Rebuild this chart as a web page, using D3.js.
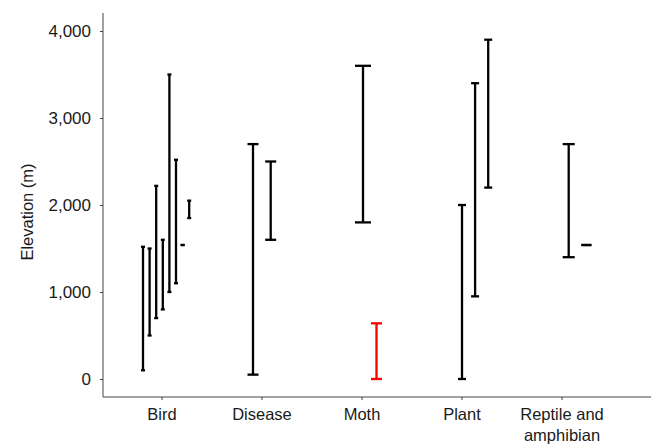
<!DOCTYPE html>
<meta charset="utf-8">

<head>
    <script src="https://d3js.org/d3.v7.min.js"></script>
</head>
<style>
    body {
        margin: 0;
        font-family: "Liberation Sans", Helvetica, Arial, sans-serif;
        background: #fff;
    }

    .axis text {
        font-family: "Liberation Sans", Helvetica, Arial, sans-serif;
        fill: #1a1a1a;
    }
</style>

<body>
    <script>
        'use strict';

        // categories along the x axis
        const categories = ["Bird", "Disease", "Moth", "Plant", "Reptile and amphibian"];

        // elevation ranges (m), one pair of arrays per category
        const birdLow = [100, 500, 700, 800, 1000, 1100, 1540, 1850];
        const birdHigh = [1520, 1500, 2220, 1600, 3500, 2520, 1540, 2050];
        const diseaseLow = [50, 1600];
        const diseaseHigh = [2700, 2500];
        const mothLow = [1800, 0];
        const mothHigh = [3600, 640];
        const plantLow = [0, 950, 2200];
        const plantHigh = [2000, 3400, 3900];
        const reptileLow = [1400, 1540];
        const reptileHigh = [2700, 1540];

        const yTicks = [0, 1000, 2000, 3000, 4000];

        // the one range drawn in red
        const highlighted = { category: "Moth", index: 1 };

        const lows = [birdLow, diseaseLow, mothLow, plantLow, reptileLow];
        const highs = [birdHigh, diseaseHigh, mothHigh, plantHigh, reptileHigh];

        // dodge layout inside each category slot (pixels from slot centre)
        const dodge = {
            "Bird": { start: -19, step: 6.6, cap: [4] },
            "Disease": { start: -9, step: 17.7, cap: [11] },
            "Moth": { start: 1, step: 13.5, cap: [16, 11] },
            "Plant": { start: 0, step: 13.1, cap: [8] },
            "Reptile and amphibian": { start: 6.7, step: 17.7, cap: [12, 10] }
        };

        const W = 651, H = 446;
        const left = 103, bottom = 397;

        const svg = d3.select("body").append("svg")
            .attr("width", W)
            .attr("height", H);

        const x = d3.scaleBand()
            .domain(categories)
            .range([112, 612])
            .padding(0);

        const y = d3.scaleLinear()
            .domain([0, 4000])
            .range([379, 31]);

        const rows = [];
        categories.forEach((c, ci) => {
            lows[ci].forEach((lo, i) => {
                rows.push({ category: c, i: i, low: lo, high: highs[ci][i] });
            });
        });

        const xPos = (d) => {
            const l = dodge[d.category];
            return x(d.category) + x.bandwidth() / 2 + l.start + d.i * l.step;
        };
        const capW = (d) => {
            const c = dodge[d.category].cap;
            return c[Math.min(d.i, c.length - 1)];
        };
        const colour = (d) => (d.category === highlighted.category && d.i === highlighted.index) ? "#ff0000" : "#000";

        // axes
        const yAxis = svg.append("g")
            .attr("class", "axis")
            .attr("transform", "translate(" + left + ",0)")
            .call(d3.axisLeft(y).tickValues(yTicks).tickFormat(d3.format(",")).tickSize(3).tickPadding(9));
        yAxis.select(".domain").remove();
        yAxis.selectAll(".tick line").attr("stroke", "#444");
        yAxis.selectAll("text").style("font-size", "17px");
        yAxis.append("line")
            .attr("x1", 0).attr("x2", 0)
            .attr("y1", 13).attr("y2", bottom)
            .attr("stroke", "#444");

        const xAxis = svg.append("g")
            .attr("class", "axis")
            .attr("transform", "translate(0," + bottom + ")")
            .call(d3.axisBottom(x).tickSize(3).tickPadding(8));
        xAxis.select(".domain").remove();
        xAxis.selectAll(".tick line").attr("stroke", "#444");
        xAxis.append("line")
            .attr("x1", left).attr("x2", W)
            .attr("y1", 0).attr("y2", 0)
            .attr("stroke", "#444");

        // wrap the long label onto two lines
        xAxis.selectAll(".tick text")
            .style("font-size", "16.5px")
            .each(function (d) {
                const t = d3.select(this);
                if (d === "Reptile and amphibian") {
                    t.text(null);
                    t.append("tspan").attr("x", 0).attr("dy", "0.71em").text("Reptile and");
                    t.append("tspan").attr("x", 0).attr("dy", "1.27em").text("amphibian");
                    t.attr("dy", null);
                }
            });

        svg.append("text")
            .attr("transform", "translate(27,212) rotate(-90)")
            .attr("text-anchor", "middle")
            .attr("dy", "0.35em")
            .style("font-size", "16.5px")
            .attr("fill", "#1a1a1a")
            .text("Elevation (m)");

        // error bars
        const bars = svg.append("g").selectAll("g")
            .data(rows)
            .enter().append("g")
            .attr("stroke", colour)
            .attr("stroke-width", 2.3);

        bars.append("line")
            .attr("x1", xPos).attr("x2", xPos)
            .attr("y1", (d) => y(d.low))
            .attr("y2", (d) => y(d.high));

        bars.append("line")
            .attr("x1", (d) => xPos(d) - capW(d) / 2)
            .attr("x2", (d) => xPos(d) + capW(d) / 2)
            .attr("y1", (d) => y(d.high))
            .attr("y2", (d) => y(d.high));

        bars.append("line")
            .attr("x1", (d) => xPos(d) - capW(d) / 2)
            .attr("x2", (d) => xPos(d) + capW(d) / 2)
            .attr("y1", (d) => y(d.low))
            .attr("y2", (d) => y(d.low));
    </script>
